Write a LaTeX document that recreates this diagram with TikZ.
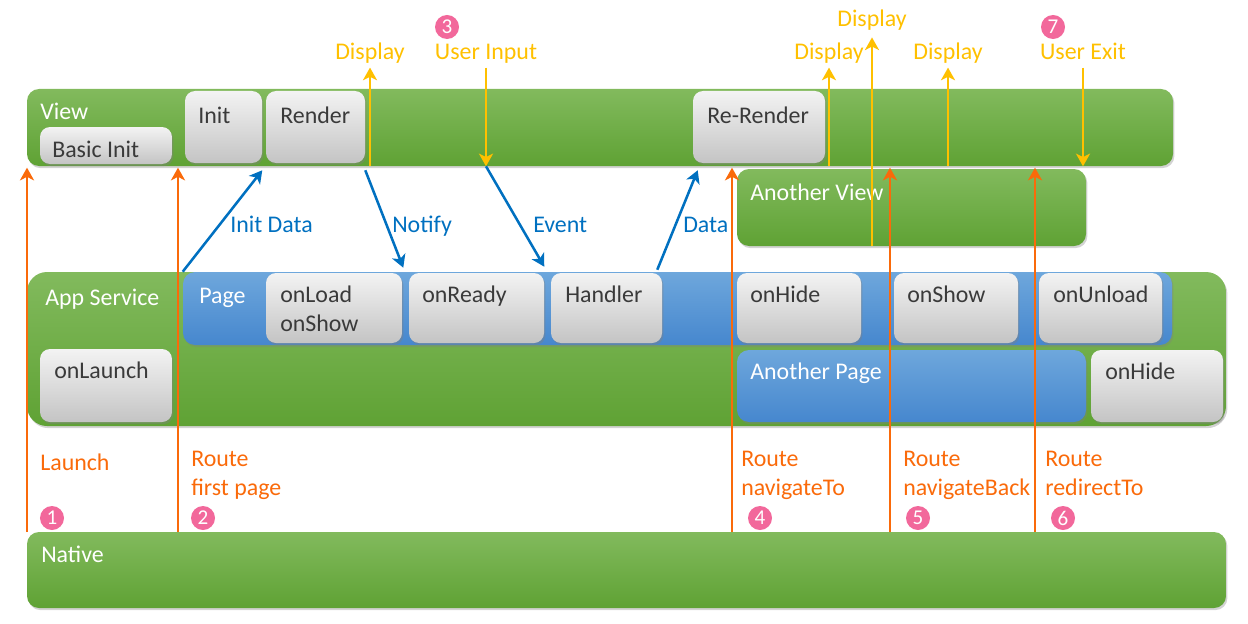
\documentclass[tikz,border=0pt]{standalone}
\usepackage{fontspec}
\setmainfont{Carlito}
\usetikzlibrary{arrows.meta,fit,shadows}

\definecolor{grnT}{HTML}{82BA5D}
\definecolor{grnB}{HTML}{5FA234}
\definecolor{bluT}{HTML}{6EA7DC}
\definecolor{bluB}{HTML}{4687CE}
\definecolor{gryT}{HTML}{F3F3F3}
\definecolor{gryB}{HTML}{C4C4C4}
\definecolor{txtgray}{HTML}{3A3A3A}
\definecolor{orng}{HTML}{FA6A0A}
\definecolor{yel}{HTML}{FFC000}
\definecolor{flowblue}{HTML}{0070C0}
\definecolor{pink}{HTML}{F2689B}

\begin{document}
\begin{tikzpicture}[x=0.025cm, y=-0.025cm, font=\fontsize{17}{20.5}\selectfont,
    layer/.style={inner sep=0pt, rounded corners=0.3cm, top color=grnT, bottom color=grnB,
                  drop shadow={shadow xshift=1pt, shadow yshift=-1.5pt, opacity=0.35}},
    pagebar/.style={inner sep=0pt, rounded corners=0.3cm, top color=bluT, bottom color=bluB,
                  drop shadow={shadow xshift=1pt, shadow yshift=-1.5pt, opacity=0.35}},
    box/.style={inner sep=0pt, rounded corners=0.25cm, top color=gryT, bottom color=gryB,
                  drop shadow={shadow xshift=1pt, shadow yshift=-1.5pt, opacity=0.4}},
    wtext/.style={anchor=base west, inner sep=0pt, text=white},
    btext/.style={anchor=base west, inner sep=0pt, text=txtgray, align=left},
    otext/.style={anchor=base west, inner sep=0pt, text=orng, align=left},
    ftext/.style={anchor=base west, inner sep=0pt, text=flowblue},
    ytext/.style={anchor=base, inner sep=3pt, text depth=0.22em, text=yel},
    num/.style={circle, fill=pink, text=white, inner sep=0pt, minimum size=0.6cm,
                font=\fontsize{15}{15}\selectfont},
    route/.style={draw=orng, line width=2pt, shorten >=1pt,
                  -{Stealth[length=9pt, width=10pt, inset=2.5pt]}},
    disp/.style={draw=yel, line width=1.8pt, -{Stealth[length=9pt, width=10pt, inset=2.5pt]}},
    flow/.style={draw=flowblue, line width=1.8pt, -{Stealth[length=9pt, width=10pt, inset=2.5pt]}}]

  \useasboundingbox (0,0) rectangle (1248,624);

  % View
  \node[layer, fit={(27,89) (1173,166)}] (view) {};
  \node[wtext] (viewt) at (40,119) {View};
  \node[box, fit={(40,127) (172,164)}] (basic) {};
  \node[btext] (basict) at (52,157) {Basic Init};
  \node[box, fit={(185,91) (262,163)}] (init) {};
  \node[btext] (initt) at (198,123) {Init};
  \node[box, fit={(266,91) (365,163)}] (render) {};
  \node[btext] (rendert) at (280,123) {Render};
  \node[box, fit={(693,91) (825,163)}] (rerender) {};
  \node[btext] (rerendert) at (707,123) {Re-Render};
  \node[layer, fit={(737,169) (1086,246)}] (aview) {};
  \node[wtext] (aviewt) at (750,200) {Another View};

  % App Service
  \node[layer, rounded corners=0.5cm, fit={(27,272) (1226,426)}] (app) {};
  \node[wtext] (appt) at (45,305) {App Service};
  \node[pagebar, fit={(183,272) (1172,345)}] (page) {};
  \node[wtext] (paget) at (199,303) {Page};
  \node[box, fit={(266,273) (402,343)}] (onload) {};
  \node[btext] (onloadt) at (280,331) {onLoad\\onShow};
  \node[box, fit={(409,273) (544,343)}] (onready) {};
  \node[btext] (onreadyt) at (422,302) {onReady};
  \node[box, fit={(551,273) (662,343)}] (handler) {};
  \node[btext] (handlert) at (565,302) {Handler};
  \node[box, fit={(737,273) (861,343)}] (onhide) {};
  \node[btext] (onhidet) at (750,302) {onHide};
  \node[box, fit={(894,273) (1018,343)}] (onshow) {};
  \node[btext] (onshowt) at (907,302) {onShow};
  \node[box, fit={(1039,273) (1162,343)}] (onunload) {};
  \node[btext] (onunloadt) at (1053,302) {onUnload};
  \node[box, fit={(40,349) (172,422)}] (onlaunch) {};
  \node[btext] (onlauncht) at (54,378) {onLaunch};
  \node[pagebar, fit={(737,350) (1086,422)}] (apage) {};
  \node[wtext] (apaget) at (750,379) {Another Page};
  \node[box, fit={(1091,350) (1223,422)}] (onhideb) {};
  \node[btext] (onhidebt) at (1105,379) {onHide};

  % Native
  \node[layer, fit={(27,532) (1226,608)}] (native) {};
  \node[wtext] (nativet) at (41,562) {Native};

  % routes from native
  \node[otext] (launch) at (40,470) {Launch};
  \node[otext] (first) at (191,495) {Route\\first page};
  \node[otext] (navto) at (741,495) {Route\\navigateTo};
  \node[otext] (navback) at (903,495) {Route\\navigateBack};
  \node[otext] (redir) at (1045,495) {Route\\redirectTo};
  \foreach \n/\x in {1/27, 2/178, 4/732, 5/890, 6/1035} {
    \coordinate (r\n) at (\x,532);
    \draw[route] (r\n) -- (r\n |- view.south);
  }

  % display and user events
  \node[ytext] (disp1) at (370,60) {Display};
  \node[ytext] (uin) at (486,60) {User Input};
  \node[ytext] (disp2) at (829,60) {Display};
  \node[ytext] (disp3) at (872,27) {Display};
  \node[ytext] (disp4) at (948,60) {Display};
  \node[ytext] (uexit) at (1083,60) {User Exit};
  \draw[disp] (disp1.south |- view.south) -- (disp1.south);
  \draw[disp] (uin.south) -- (uin.south |- view.south);
  \draw[disp] (disp2.south |- view.south) -- (disp2.south);
  \draw[disp, shorten >=2pt] (disp3.south |- aview.south) -- (disp3.south);
  \draw[disp] (disp4.south |- view.south) -- (disp4.south);
  \draw[disp] (uexit.south) -- (uexit.south |- view.south);

  % data flow view <-> page
  \node[ftext] (initdata) at (230,232) {Init Data};
  \node[ftext] (notify) at (392,232) {Notify};
  \node[ftext] (event) at (533,232) {Event};
  \node[ftext] (data) at (683,232) {Data};
  \draw[flow] (page.north west) -- ([shift={(0,7)}]init.south east);
  \draw[flow] ([shift={(0,7)}]render.south east) -- ([shift={(1,-5)}]onload.north east);
  \draw[flow] (uin.south |- view.south) -- ([shift={(0,-6)}]onready.north east);
  \draw[flow] ([shift={(-5,-3)}]handler.north east) -- ([shift={(5,7)}]rerender.south west);

  % step numbers
  \foreach \n/\x/\y in {1/52/518, 2/203/518, 3/447/27, 4/760/518, 5/918/518, 6/1063/518, 7/1053/27}
    \node[num] (n\n) at (\x,\y) {\n};

\end{tikzpicture}
\end{document}
